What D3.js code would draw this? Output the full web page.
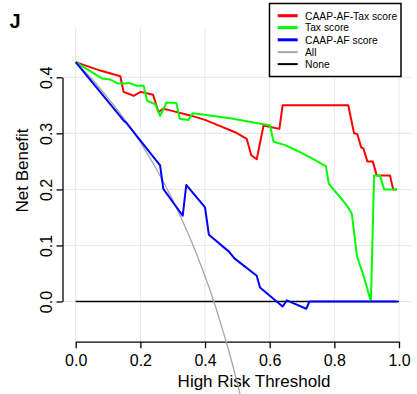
<!DOCTYPE html>
<html>
<head>
<meta charset="utf-8">
<script src="https://cdn.jsdelivr.net/npm/d3@7"></script>
<style>
  html, body { margin: 0; padding: 0; background: #fff; }
  svg { display: block; font-family: "Liberation Sans", Arial, Helvetica, sans-serif; }
</style>
</head>
<body>
<div id="chart"></div>
<script>
// ---- Data ----
const seriesNames = ["CAAP-AF-Tax score", "Tax score", "CAAP-AF score", "All", "None"];
const seriesColors = ["#ff0000", "#00ff00", "#0000ff", "#a6a6a6", "#000000"];

const thresholdsRed = [0, 0.076, 0.138, 0.148, 0.179, 0.201, 0.239, 0.256, 0.271, 0.292, 0.354, 0.400, 0.447, 0.493, 0.529, 0.543, 0.560, 0.581, 0.630, 0.640, 0.843, 0.861, 0.871, 0.883, 0.890, 0.902, 0.919, 0.931, 0.972, 0.982, 0.993];
const netBenefitRed = [0.427, 0.412, 0.402, 0.374, 0.367, 0.374, 0.369, 0.338, 0.344, 0.341, 0.332, 0.324, 0.313, 0.302, 0.290, 0.261, 0.254, 0.314, 0.308, 0.350, 0.350, 0.300, 0.299, 0.275, 0.273, 0.250, 0.250, 0.225, 0.225, 0.200, 0.200];

const thresholdsGreen = [0, 0.045, 0.081, 0.107, 0.130, 0.150, 0.165, 0.189, 0.210, 0.221, 0.246, 0.261, 0.281, 0.311, 0.322, 0.349, 0.362, 0.478, 0.601, 0.612, 0.648, 0.685, 0.725, 0.750, 0.774, 0.783, 0.818, 0.839, 0.854, 0.870, 0.892, 0.913, 0.923, 0.941, 0.954, 0.994];
const netBenefitGreen = [0.427, 0.411, 0.398, 0.396, 0.389, 0.389, 0.390, 0.385, 0.385, 0.358, 0.352, 0.331, 0.355, 0.354, 0.326, 0.324, 0.336, 0.327, 0.314, 0.285, 0.279, 0.269, 0.257, 0.249, 0.241, 0.210, 0.186, 0.171, 0.157, 0.081, 0.043, 0.000, 0.225, 0.225, 0.200, 0.200];

const thresholdsBlue = [0, 0.148, 0.158, 0.261, 0.271, 0.331, 0.342, 0.400, 0.412, 0.474, 0.491, 0.560, 0.570, 0.640, 0.653, 0.713, 0.723, 0.995];
const netBenefitBlue = [0.427, 0.323, 0.318, 0.243, 0.201, 0.153, 0.208, 0.168, 0.119, 0.089, 0.077, 0.046, 0.025, -0.009, 0.002, -0.013, 0.000, 0.000];

const thresholdsAll = [0, 0.05, 0.10, 0.15, 0.20, 0.25, 0.30, 0.35, 0.40, 0.425, 0.45, 0.475, 0.50, 0.52];
const netBenefitAll = [0.427, 0.397, 0.363, 0.326, 0.284, 0.236, 0.181, 0.118, 0.045, 0.004, -0.042, -0.091, -0.146, -0.194];

const thresholdsNone = [0, 1];
const netBenefitNone = [0, 0];

const xTicks = [0, 0.2, 0.4, 0.6, 0.8, 1.0];
const yTicks = [0, 0.1, 0.2, 0.3, 0.4];

const panelLabel = "J";
const xTitle = "High Risk Threshold";
const yTitle = "Net Benefit";

// ---- Drawing ----
const W = 417, H = 394;
const svg = d3.select("#chart").append("svg").attr("width", W).attr("height", H);

const x = d3.scaleLinear().domain([0, 1]).range([75.7, 399]);
const y = d3.scaleLinear().domain([0, 0.4]).range([301.5, 77.3]);

const plotLeft = 62.5, plotRight = 412, plotTop = 28, plotBottom = 341.7;

// grid
const grid = svg.append("g").attr("stroke", "#e6e6e6").attr("stroke-width", 1);
grid.selectAll("line.v").data(xTicks).join("line")
  .attr("x1", d => x(d)).attr("x2", d => x(d))
  .attr("y1", plotTop).attr("y2", plotBottom);
grid.selectAll("line.h").data(yTicks).join("line")
  .attr("x1", plotLeft).attr("x2", plotRight)
  .attr("y1", d => y(d)).attr("y2", d => y(d));

// axes
const xAxis = svg.append("g").attr("transform", `translate(0,${plotBottom})`)
  .call(d3.axisBottom(x).tickValues(xTicks).tickSize(6.5).tickSizeOuter(0).tickFormat(d3.format(".1f")));
const yAxis = svg.append("g").attr("transform", `translate(${plotLeft},0)`)
  .call(d3.axisLeft(y).tickValues(yTicks).tickSize(6).tickSizeOuter(0).tickFormat(d3.format(".1f")));
[xAxis, yAxis].forEach(a => {
  a.select(".domain").attr("stroke", "#000").attr("stroke-width", 1.3);
  a.selectAll(".tick line").attr("stroke", "#000").attr("stroke-width", 1.3);
  a.selectAll("text").attr("fill", "#000").attr("font-size", 16)
    .attr("font-family", "Liberation Sans, Arial, sans-serif");
});
xAxis.selectAll(".tick text").attr("y", 24.8).attr("dy", null);
yAxis.selectAll(".tick text").attr("x", null).attr("dy", null)
  .attr("text-anchor", "middle").attr("transform", "translate(-10.5,0) rotate(-90)");

// titles
svg.append("text").attr("x", 254).attr("y", 387.3).attr("text-anchor", "middle")
  .attr("font-size", 17).text(xTitle);
svg.append("text").attr("transform", "translate(28.3,170.5) rotate(-90)")
  .attr("text-anchor", "middle").attr("font-size", 17).text(yTitle);
svg.append("text").attr("x", 9.5).attr("y", 28.3).attr("font-size", 20)
  .attr("font-weight", "bold").text(panelLabel);

// lines
const line = d3.line().x(d => x(d[0])).y(d => y(d[1]));
const zip = (a, b) => a.map((v, i) => [v, b[i]]);
const curves = [
  { t: thresholdsNone, v: netBenefitNone, c: seriesColors[4], w: 1.6 },
  { t: thresholdsAll, v: netBenefitAll, c: seriesColors[3], w: 1.3, curve: d3.curveMonotoneX },
  { t: thresholdsRed, v: netBenefitRed, c: seriesColors[0], w: 2 },
  { t: thresholdsGreen, v: netBenefitGreen, c: seriesColors[1], w: 2 },
  { t: thresholdsBlue, v: netBenefitBlue, c: seriesColors[2], w: 2 }
];
curves.forEach(s => {
  const l = d3.line().x(d => x(d[0])).y(d => y(d[1])).curve(s.curve || d3.curveLinear);
  svg.append("path").datum(zip(s.t, s.v)).attr("d", l)
    .attr("fill", "none").attr("stroke", s.c).attr("stroke-width", s.w)
    .attr("stroke-linejoin", "round");
});

// legend
const lg = svg.append("g");
lg.append("rect").attr("x", 269.5).attr("y", 3.5).attr("width", 131.5).attr("height", 73)
  .attr("fill", "#fff").attr("stroke", "#000").attr("stroke-width", 1.5);
const rowY = [15.7, 27.6, 39.8, 52.1, 64.1];
const legW = [3, 3, 3, 2, 2];
seriesNames.forEach((n, i) => {
  lg.append("line").attr("x1", 277.7).attr("x2", 297.7).attr("y1", rowY[i]).attr("y2", rowY[i])
    .attr("stroke", seriesColors[i]).attr("stroke-width", legW[i]);
  lg.append("text").attr("x", 305).attr("y", rowY[i] + 3.8).attr("font-size", 10.3).text(n);
});
</script>
</body>
</html>
